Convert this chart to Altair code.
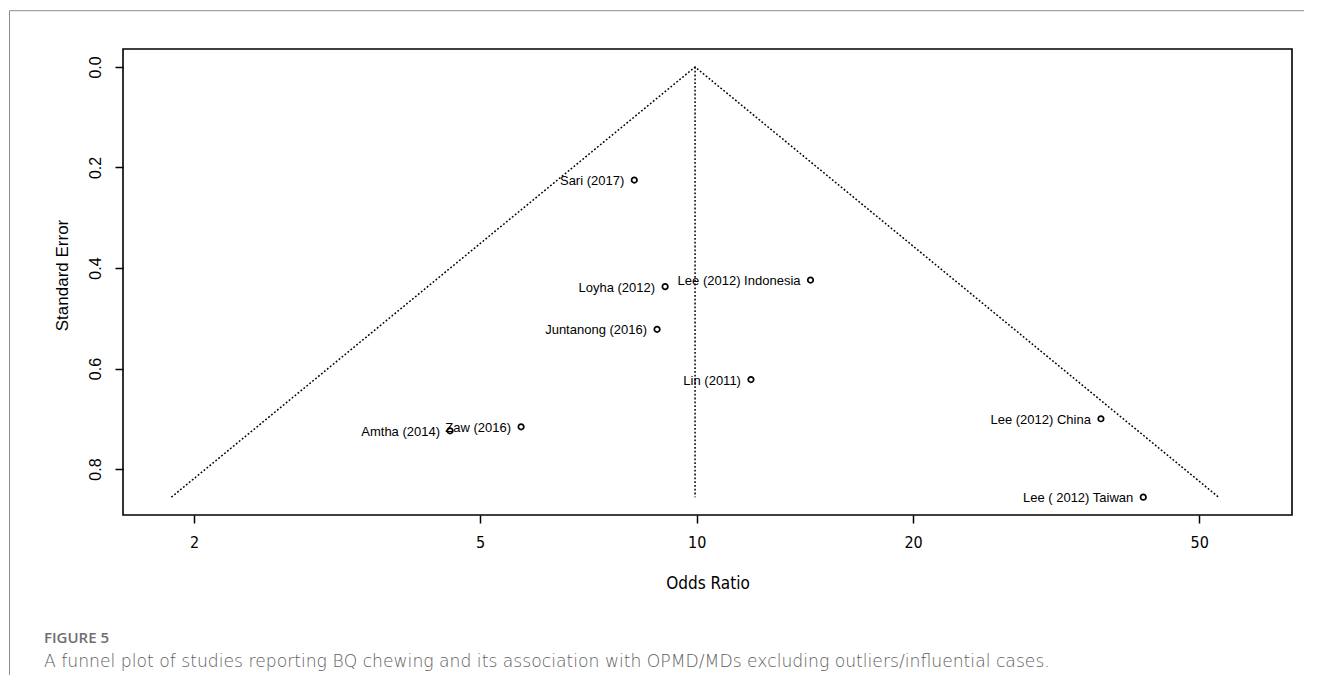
import altair as alt
import pandas as pd

# ---- data ----
studies = ["Sari (2017)", "Loyha (2012)", "Juntanong (2016)", "Lee (2012) Indonesia",
           "Lin (2011)", "Zaw (2016)", "Amtha (2014)", "Lee (2012) China", "Lee ( 2012) Taiwan"]
odds_ratio = [8.19, 9.04, 8.81, 14.4, 11.9, 5.70, 4.54, 36.5, 41.8]
std_error = [0.225, 0.437, 0.522, 0.424, 0.622, 0.716, 0.724, 0.700, 0.856]

funnel_or = [1.86, 9.95, 53.2]
funnel_se = [0.856, 0.0, 0.856]
center_or = [9.95, 9.95]
center_se = [0.0, 0.856]

x_ticks = [2, 5, 10, 20, 50]
y_ticks = [0.0, 0.2, 0.4, 0.6, 0.8]

fig_label = "FIGURE 5"
caption = ("A funnel plot of studies reporting BQ chewing and its association with "
           "OPMD/MDs excluding outliers/influential cases.")

NARROW = "DejaVu Sans Condensed, Liberation Sans, Arial"
SANS = "Liberation Sans, Arial"

pts = pd.DataFrame({"study": studies, "or": odds_ratio, "se": std_error})
funnel = pd.DataFrame({"or": funnel_or, "se": funnel_se, "o": [0, 1, 2]})
center = pd.DataFrame({"or": center_or, "se": center_se})

xscale = alt.Scale(type="log", domain=[1.593, 67.3], nice=False)
yscale = alt.Scale(domain=[-0.0358, 0.8915], reverse=True, nice=False, zero=False)

xaxis = alt.Axis(values=x_ticks, format="d", title="Odds Ratio", grid=False, domain=False,
                 tickSize=8, tickWidth=1.5, tickColor="black", labelPadding=19,
                 labelBaseline="middle", labelFont=NARROW, labelFontSize=16,
                 labelColor="black", titleFont=NARROW, titleFontSize=17,
                 titleFontWeight="normal", titleColor="black", titleX=584.5, titleY=68,
                 titleBaseline="middle", titleAlign="center")
yaxis = alt.Axis(values=y_ticks, format=".1f", title="Standard Error", grid=False,
                 domain=False, tickSize=8, tickWidth=1.5, tickColor="black",
                 labelAngle=270, labelAlign="center", labelBaseline="middle",
                 labelPadding=20, labelFont=SANS, labelFontSize=16, labelColor="black",
                 titleFont=SANS, titleFontSize=17, titleFontWeight="normal",
                 titleColor="black", titleAngle=270, titleX=-61, titleY=226,
                 titleBaseline="middle", titleAlign="center")

funnel_line = alt.Chart(funnel).mark_line(
    color="black", strokeWidth=1.5, strokeDash=[1.8, 2]
).encode(
    x=alt.X("or:Q", scale=xscale, axis=xaxis),
    y=alt.Y("se:Q", scale=yscale, axis=yaxis),
    order="o:O",
)

center_line = alt.Chart(center).mark_line(
    color="black", strokeWidth=1.5, strokeDash=[1.8, 2]
).encode(x=alt.X("or:Q", scale=xscale), y=alt.Y("se:Q", scale=yscale))

points = alt.Chart(pts).mark_point(
    shape="circle", size=30, filled=False, color="black", strokeWidth=1.7, opacity=1
).encode(x=alt.X("or:Q", scale=xscale), y=alt.Y("se:Q", scale=yscale))

labels = alt.Chart(pts).mark_text(
    align="right", baseline="middle", dx=-10, dy=1, font=SANS, fontSize=13, color="black"
).encode(x=alt.X("or:Q", scale=xscale), y=alt.Y("se:Q", scale=yscale), text="study:N")

# outer figure frame (decorative)
frame_top = alt.Chart(pd.DataFrame({"a": [0]})).mark_rule(color="#8c8c8c", strokeWidth=1).encode(
    x=alt.value(-113.5), x2=alt.value(1300), y=alt.value(-38.3))
frame_left = alt.Chart(pd.DataFrame({"a": [0]})).mark_rule(color="#8c8c8c", strokeWidth=1).encode(
    x=alt.value(-113.5), y=alt.value(-38.3), y2=alt.value(700))

fig_text = alt.Chart(pd.DataFrame({"t": [fig_label]})).mark_text(
    align="left", baseline="middle", font="Open Sans", fontSize=15, fontWeight=600,
    color="#6e6e6e"
).encode(x=alt.value(-79), y=alt.value(589), text="t:N")

cap_text = alt.Chart(pd.DataFrame({"t": [caption]})).mark_text(
    align="left", baseline="middle", font="DejaVu Sans", fontSize=17.2, fontWeight=300,
    color="#5e5e5e"
).encode(x=alt.value(-79), y=alt.value(613), text="t:N")

chart = alt.layer(
    funnel_line, center_line, points, labels, frame_top, frame_left, fig_text, cap_text
).properties(
    width=1169, height=466,
    padding={"left": 115, "top": 41, "right": 12, "bottom": 160},
    autosize=alt.AutoSizeParams(type="none"),
    background="white",
).configure_view(
    stroke="black", strokeWidth=1.6
)

chart.save("out.html", embed_options={"renderer": "svg", "actions": False})
